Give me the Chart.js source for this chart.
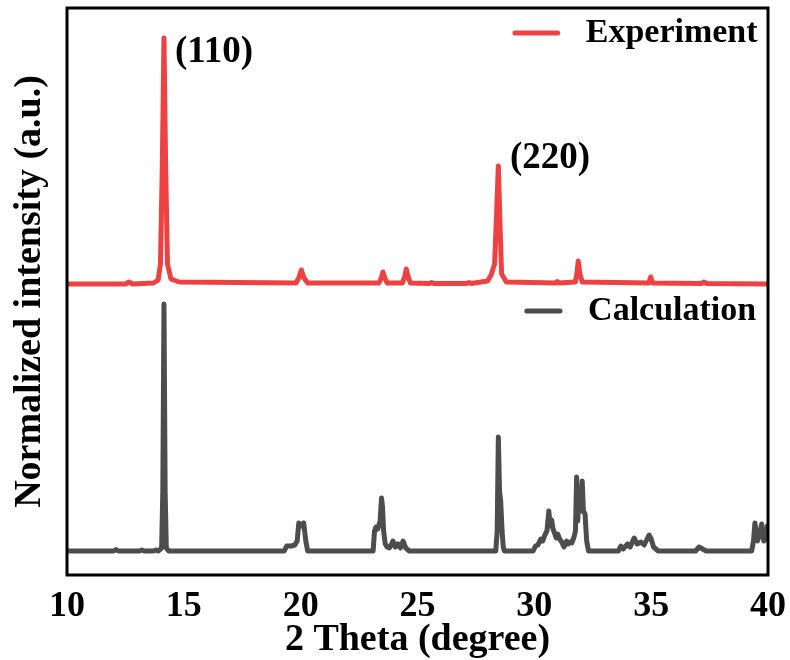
<!DOCTYPE html>
<html>
<head>
<meta charset="utf-8">
<title>XRD pattern</title>
<script src="https://cdn.jsdelivr.net/npm/chart.js@4.4.0/dist/chart.umd.min.js"></script>
<style>
  body { margin: 0; background: #fff; }
  canvas { display: block; }
</style>
</head>
<body>
<canvas id="xrd" width="790" height="660"></canvas>
<script>
// XRD pattern: measured vs calculated
// intensities are relative heights above each pattern's own baseline

const expTheta = [10.0, 12.5, 12.65, 12.8, 13.7, 13.9, 14.0, 14.08, 14.15, 14.22, 14.3, 14.45, 14.8,
    19.8, 19.92, 20.03, 20.14, 20.3, 23.35, 23.45, 23.52, 23.6, 23.7, 24.35, 24.45, 24.52, 24.6, 24.7,
    25.5, 25.6, 25.7, 27.1, 27.2, 27.3, 28.0, 28.15, 28.3, 28.4, 28.46, 28.53, 28.6, 28.8,
    30.9, 30.98, 31.06, 31.75, 31.82, 31.88, 31.95, 32.05, 34.9, 34.98, 35.06, 37.15, 37.26, 37.37, 40.0];
const expIntensity = [0, 0, 2, 0, 1, 4, 20, 120, 246, 120, 20, 5, 2,
    1, 6, 14, 6, 1, 1, 6, 12, 6, 1, 1, 7, 15, 7, 1,
    0.5, 1.5, 0.5, 0.5, 1.5, 0.5, 3, 9, 20, 80, 118, 60, 10, 2,
    1, 2.5, 1, 2, 10, 23, 10, 2, 1, 7, 1, 0.5, 2, 0.5, 0];

const calcTheta = [10.0, 12.0, 12.1, 12.2, 13.1, 13.2, 13.3, 13.7, 13.8, 13.9, 14.05, 14.1, 14.15, 14.2, 14.25, 14.35,
    19.3, 19.4, 19.6, 19.75, 19.85, 19.92, 20.02, 20.13, 20.22, 20.3,
    23.1, 23.16, 23.22, 23.3, 23.4, 23.46, 23.5, 23.55, 23.62, 23.7, 23.8, 23.95, 24.05, 24.16, 24.27, 24.38, 24.5, 24.65,
    28.35, 28.41, 28.46, 28.51, 28.56, 28.62, 28.67, 28.72,
    29.95, 30.05, 30.15, 30.28, 30.36, 30.45, 30.54, 30.62, 30.68, 30.74, 30.8, 30.88, 30.94, 31.0, 31.08, 31.17, 31.27,
    31.38, 31.45, 31.52, 31.6, 31.7, 31.76, 31.81, 31.86, 31.91, 31.98, 32.05, 32.1, 32.17, 32.24, 32.32,
    33.6, 33.7, 33.8, 33.99, 34.1, 34.27, 34.4, 34.56, 34.7, 34.91, 35.0, 35.1, 35.3,
    36.9, 37.05, 37.2, 37.35,
    39.3, 39.38, 39.44, 39.55, 39.62, 39.73, 39.82, 39.9, 39.97, 40.0];
const calcIntensity = [0, 0, 1.5, 0, 0, 1, 0, 0, 1, 0, 3, 60, 247, 60, 3, 0,
    0, 5, 5, 6, 10, 28, 25, 28, 10, 0,
    0, 20, 24, 22, 30, 53, 45, 20, 7, 4, 3, 10, 4, 7, 3, 10, 3, 0,
    0, 20, 114, 60, 50, 20, 4, 0,
    0, 5, 6, 12, 10, 16, 20, 40, 25, 31, 22, 17, 13, 17, 12, 9, 4,
    10, 7, 9, 8, 14, 20, 74, 30, 56, 40, 70, 40, 37, 10, 0,
    0, 5, 2, 7, 4, 13, 7, 9, 6, 16, 12, 4, 0,
    0, 4, 2, 0,
    0, 10, 28, 10, 15, 27, 10, 12, 25, 20];

const expOffset = 267;   // stacking offset of the measured pattern
const calcOffset = 0;

const xTicks = [10, 15, 20, 25, 30, 35, 40];
const peakNames = ['(110)', '(220)'];
const seriesNames = ['Experiment', 'Calculation'];

const RED = '#ee4141';
const GREY = '#4d4d4d';
const FONT = "'Liberation Serif', 'Times New Roman', serif";

function toPoints(theta, inten, offset) {
    return theta.map((t, i) => ({ x: t, y: inten[i] + offset }));
}

// extra texts and the box around the plot
const decorations = {
    id: 'decorations',
    afterDraw(chart) {
        const { ctx, chartArea: a, scales } = chart;
        const xs = scales.x, ys = scales.y;
        ctx.save();

        // frame
        ctx.strokeStyle = '#000';
        ctx.lineWidth = 3;
        ctx.strokeRect(a.left, a.top, a.right - a.left, a.bottom - a.top);

        // peak labels
        ctx.fillStyle = '#000';
        ctx.font = 'bold 37px ' + FONT;
        ctx.textBaseline = 'middle';
        ctx.textAlign = 'left';
        const labelPos = [[14.62, 499], [28.96, 393]];
        peakNames.forEach((name, i) => {
            ctx.fillText(name, xs.getPixelForValue(labelPos[i][0]), ys.getPixelForValue(labelPos[i][1]));
        });

        // legend entries sit next to each pattern
        const legendPos = [
            { x1: 29.17, x2: 31.0, tx: 32.2, y: 518, color: RED },
            { x1: 29.68, x2: 31.1, tx: 32.3, y: 240, color: GREY }
        ];
        ctx.font = 'bold 34px ' + FONT;
        ctx.lineCap = 'round';
        legendPos.forEach((p, i) => {
            const py = ys.getPixelForValue(p.y);
            ctx.strokeStyle = p.color;
            ctx.lineWidth = 5;
            ctx.beginPath();
            ctx.moveTo(xs.getPixelForValue(p.x1), py);
            ctx.lineTo(xs.getPixelForValue(p.x2), py);
            ctx.stroke();
            ctx.fillStyle = '#000';
            ctx.fillText(seriesNames[i], xs.getPixelForValue(p.tx), py);
        });

        ctx.restore();
    }
};

new Chart(document.getElementById('xrd'), {
    type: 'scatter',
    data: {
        datasets: [
            {
                label: seriesNames[1],
                data: toPoints(calcTheta, calcIntensity, calcOffset),
                borderColor: GREY
            },
            {
                label: seriesNames[0],
                data: toPoints(expTheta, expIntensity, expOffset),
                borderColor: RED
            }
        ].map(ds => ({
            ...ds,
            showLine: true,
            borderWidth: 5,
            pointRadius: 0,
            tension: 0,
            borderJoinStyle: 'round',
            borderCapStyle: 'round'
        }))
    },
    options: {
        responsive: false,
        animation: false,
        layout: { padding: { top: 8, right: 22, bottom: 0, left: 0 } },
        plugins: {
            legend: { display: false },
            tooltip: { enabled: false }
        },
        scales: {
            x: {
                type: 'linear',
                min: 10,
                max: 40,
                afterBuildTicks: (scale) => { scale.ticks = xTicks.map(v => ({ value: v })); },
                afterFit: (scale) => {
                    scale.height = 85;
                    scale.paddingLeft = 0;
                    scale.paddingRight = 0;
                },
                grid: { display: false, drawTicks: false },
                border: { display: false },
                ticks: {
                    color: '#000',
                    padding: 10,
                    maxRotation: 0,
                    font: { family: FONT, size: 36, weight: 'bold' }
                },
                title: {
                    display: true,
                    text: '2 Theta (degree)',
                    color: '#000',
                    padding: { top: 0, bottom: 0 },
                    font: { family: FONT, size: 38, weight: 'bold', lineHeight: 1.05 }
                }
            },
            y: {
                min: -24,
                max: 543,
                afterFit: (scale) => { scale.width = 67; },
                grid: { display: false, drawTicks: false },
                border: { display: false },
                ticks: { display: false },
                title: {
                    display: true,
                    text: 'Normalized intensity (a.u.)',
                    color: '#000',
                    padding: { top: 7, bottom: 0 },
                    font: { family: FONT, size: 38, weight: 'bold' }
                }
            }
        }
    },
    plugins: [decorations]
});
</script>
</body>
</html>
